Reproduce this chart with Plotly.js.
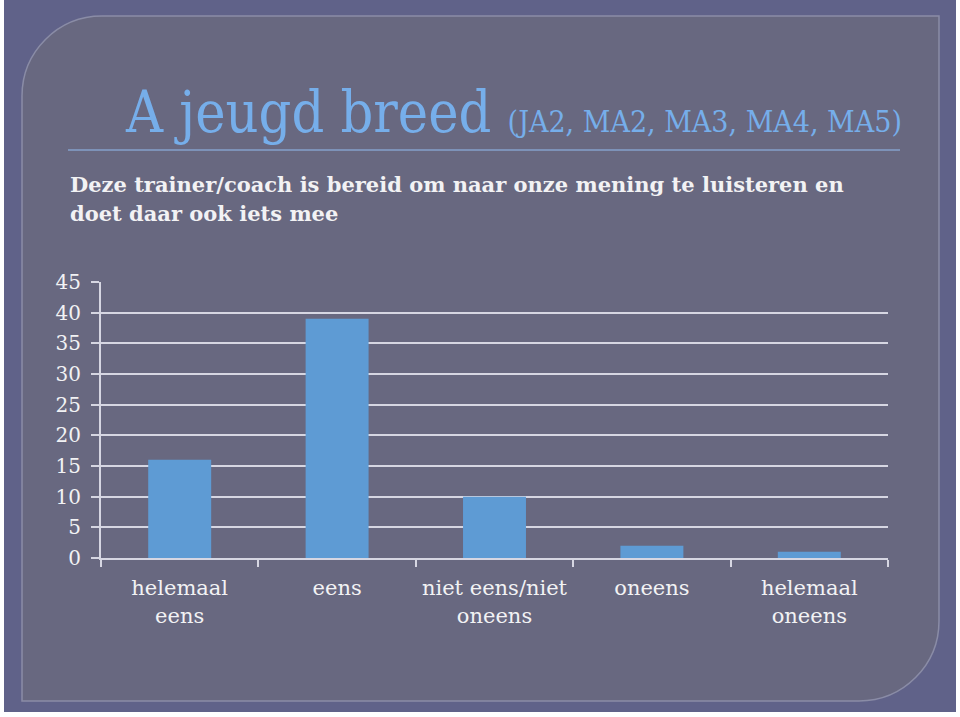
<!DOCTYPE html>
<html>
<head>
<meta charset="utf-8">
<script src="https://cdn.plot.ly/plotly-3.0.1.min.js"></script>
<style>
  html, body { margin: 0; padding: 0; background: #ffffff; }
  #chart { width: 960px; height: 717px; }
</style>
</head>
<body>
<div id="chart"></div>
<script>
// ---- data ----
const categories = ["helemaal<br>eens", "eens", "niet eens/niet<br>oneens", "oneens", "helemaal<br>oneens"];
const values = [16, 39, 10, 2, 1];
const yTicks = [0, 5, 10, 15, 20, 25, 30, 35, 40, 45];
const titleMain = "A jeugd breed";
const titleSub = "(JA2, MA2, MA3, MA4, MA5)";
const questionLines = ["Deze trainer/coach is bereid om naar onze mening te luisteren en", "doet daar ook iets mee"];

// ---- layout geometry (pixels) ----
const W = 960, H = 717;
const L = 101, R = 888, T = 282, B = 558;
const fx = px => (px - L) / (R - L);
const fy = py => (B - py) / (B - T);
const P = (x, y) => fx(x).toFixed(5) + "," + fy(y).toFixed(5);

function panelPath(x0, y0, x1, y1, r) {
  const k = 0.5523 * r;
  return "M" + P(x0 + r, y0) +
    " L" + P(x1, y0) +
    " L" + P(x1, y1 - r) +
    " C" + P(x1, y1 - r + k) + " " + P(x1 - r + k, y1) + " " + P(x1 - r, y1) +
    " L" + P(x0, y1) +
    " L" + P(x0, y0 + r) +
    " C" + P(x0, y0 + r - k) + " " + P(x0 + r - k, y0) + " " + P(x0 + r, y0) + " Z";
}

const gridCol = "#d6d6e2";
const textCol = "#f2f2f4";
const serif = "'DejaVu Serif', serif";
const serifC = "'DejaVu Serif Condensed', 'DejaVu Serif', serif";

const trace = {
  type: "bar",
  x: categories,
  y: values,
  marker: { color: "#5e9bd4" },
  hoverinfo: "x+y"
};

const layout = {
  width: W, height: H,
  margin: { l: L, r: W - R, t: T, b: H - B, pad: 0 },
  paper_bgcolor: "#ffffff",
  plot_bgcolor: "rgba(0,0,0,0)",
  showlegend: false,
  bargap: 0.6,
  xaxis: {
    type: "category",
    showgrid: false,
    zeroline: false,
    showline: true, linecolor: gridCol, linewidth: 2,
    ticks: "outside", tickson: "boundaries", ticklen: 7, tickwidth: 2, tickcolor: gridCol,
    tickfont: { family: serif, size: 21, color: textCol },
    ticklabelstandoff: 10,
    fixedrange: true
  },
  yaxis: {
    range: [0, 45],
    tickvals: yTicks,
    ticktext: yTicks.map(String),
    showgrid: true, gridcolor: gridCol, gridwidth: 2,
    zeroline: false,
    showline: true, linecolor: gridCol, linewidth: 2,
    ticks: "outside", ticklen: 8, tickwidth: 2, tickcolor: gridCol,
    tickfont: { family: serif, size: 20, color: textCol },
    ticklabelstandoff: 6,
    fixedrange: true
  },
  shapes: [
    { type: "rect", xref: "paper", yref: "paper", layer: "below",
      x0: fx(4), x1: fx(956), y0: fy(0), y1: fy(712),
      fillcolor: "#606289", line: { width: 0 } },
    { type: "path", xref: "paper", yref: "paper", layer: "below",
      path: panelPath(22, 16, 939, 701, 80),
      fillcolor: "#686880", line: { color: "#8a8ca6", width: 1.5 } },
    { type: "line", xref: "paper", yref: "paper", layer: "below",
      x0: fx(68), x1: fx(900), y0: fy(150), y1: fy(150),
      line: { color: "#7d92b8", width: 2 } }
  ],
  annotations: [
    { xref: "paper", yref: "paper", x: fx(123), y: fy(112), xanchor: "left", yanchor: "middle",
      showarrow: false,
      text: titleMain + " <span style='font-size:30px'>" + titleSub + "</span>",
      font: { family: serifC, size: 57, color: "#76aeea" } },
    { xref: "paper", yref: "paper", x: fx(68), y: fy(184), xanchor: "left", yanchor: "middle",
      showarrow: false, text: "<b>" + questionLines[0] + "</b>",
      font: { family: serif, size: 21, color: textCol } },
    { xref: "paper", yref: "paper", x: fx(68), y: fy(213), xanchor: "left", yanchor: "middle",
      showarrow: false, text: "<b>" + questionLines[1] + "</b>",
      font: { family: serif, size: 21, color: textCol } }
  ]
};

Plotly.newPlot("chart", [trace], layout, { displayModeBar: false, staticPlot: true });
</script>
</body>
</html>
